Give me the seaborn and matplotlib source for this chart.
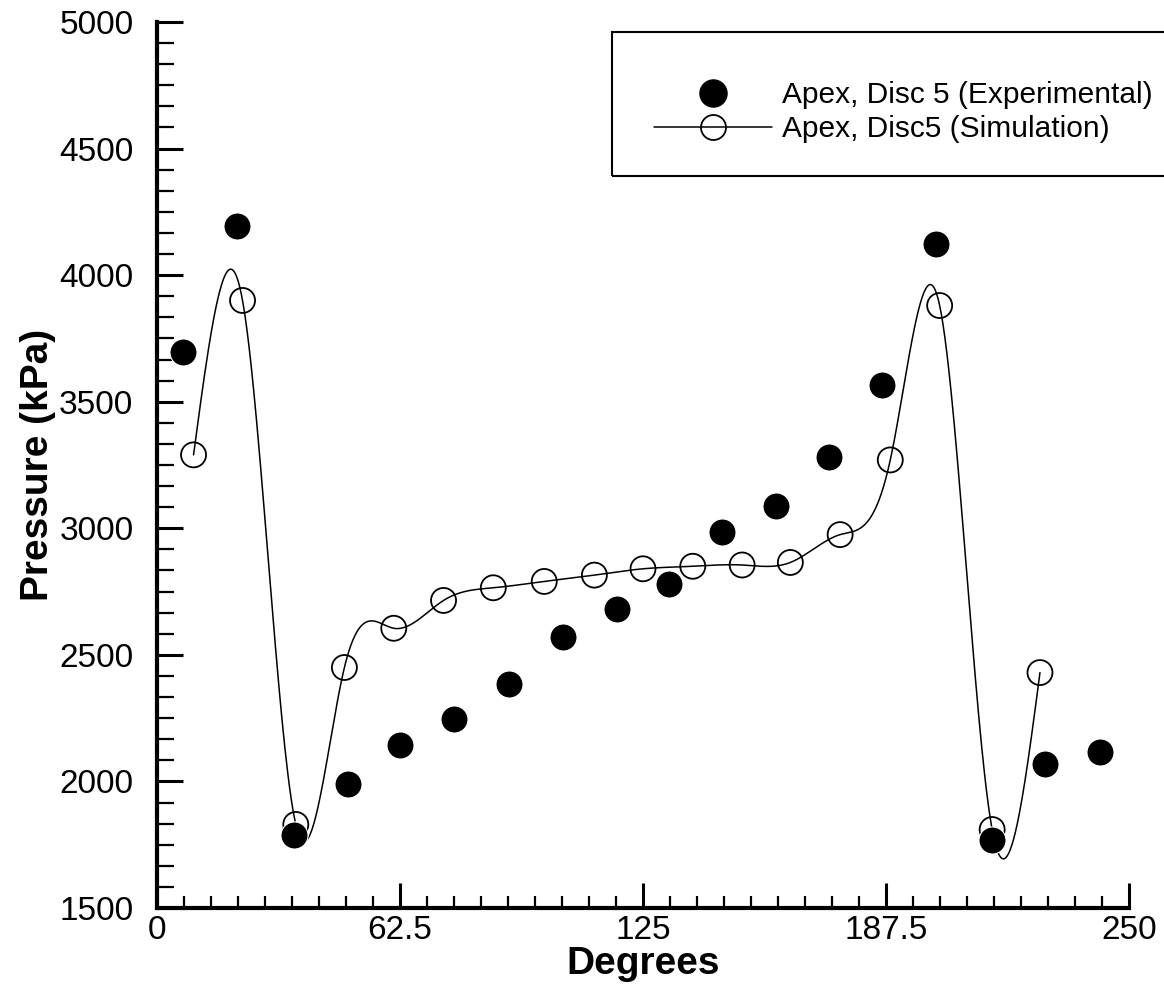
import numpy as np
import matplotlib
matplotlib.use("Agg")
import matplotlib.pyplot as plt
import matplotlib.patches as patches
from matplotlib.lines import Line2D
from matplotlib.ticker import AutoMinorLocator
import seaborn as sns

# Apex, Disc 5 - experimental points (degrees, kPa)
exp_deg = [6.7, 20.6, 35.3, 49.0, 62.6, 76.5, 90.5, 104.4, 118.3, 131.8,
           145.4, 159.1, 172.8, 186.5, 200.3, 214.7, 228.5, 242.6]
exp_kpa = [3695, 4195, 1790, 1990, 2145, 2245, 2385, 2570, 2680, 2780,
           2985, 3090, 3280, 3565, 4125, 1770, 2070, 2115]

# Apex, Disc5 - simulation points (degrees, kPa)
sim_deg = [9.4, 22.0, 35.7, 48.2, 60.9, 73.7, 86.5, 99.6, 112.5, 125.0,
           137.8, 150.5, 162.9, 175.7, 188.6, 201.3, 214.8, 227.1]
sim_kpa = [3290, 3900, 1830, 2450, 2605, 2715, 2765, 2790, 2815, 2840,
           2850, 2855, 2865, 2975, 3270, 3880, 1810, 2430]

x_ticks = [0, 62.5, 125, 187.5, 250]
x_tick_labels = ["0", "62.5", "125", "187.5", "250"]
y_ticks = [1500, 2000, 2500, 3000, 3500, 4000, 4500, 5000]

label_exp = "Apex, Disc 5 (Experimental)"
label_sim = "Apex, Disc5 (Simulation)"


def spline_curve(x, y, n=900):
    """Natural cubic spline through the points (the curve fit of the original plot)"""
    x = np.asarray(x, float)
    y = np.asarray(y, float)
    h = np.diff(x)
    m = len(x)
    A = np.zeros((m, m))
    r = np.zeros(m)
    A[0, 0] = A[-1, -1] = 1.0
    for i in range(1, m - 1):
        A[i, i - 1] = h[i - 1]
        A[i, i] = 2 * (h[i - 1] + h[i])
        A[i, i + 1] = h[i]
        r[i] = 6 * ((y[i + 1] - y[i]) / h[i] - (y[i] - y[i - 1]) / h[i - 1])
    M = np.linalg.solve(A, r)
    xs = np.linspace(x[0], x[-1], n)
    k = np.clip(np.searchsorted(x, xs) - 1, 0, m - 2)
    t0 = x[k + 1] - xs
    t1 = xs - x[k]
    hk = h[k]
    ys = ((M[k] * t0 ** 3 + M[k + 1] * t1 ** 3) / (6 * hk)
          + (y[k] / hk - M[k] * hk / 6) * t0
          + (y[k + 1] / hk - M[k + 1] * hk / 6) * t1)
    return xs, ys


sns.set_style("ticks")
plt.rcParams['font.family'] = ['Liberation Sans', 'DejaVu Sans']
plt.rcParams.update({
    'text.color': 'black', 'axes.labelcolor': 'black',
    'xtick.color': 'black', 'ytick.color': 'black', 'axes.edgecolor': 'black',
})

W, H = 1164, 996
fig = plt.figure(figsize=(W / 100, H / 100), dpi=100)
ax = fig.add_axes([157 / W, 1 - 908 / H, (1129 - 157) / W, (908 - 22) / H])

# smooth simulation curve, then markers on top
curve_x, curve_y = spline_curve(sim_deg, sim_kpa)
sns.lineplot(x=curve_x, y=curve_y, ax=ax, color="black", linewidth=1.1,
             estimator=None, sort=False, zorder=2)
sns.scatterplot(x=sim_deg, y=sim_kpa, ax=ax, s=18 ** 2, marker="o",
                facecolor="none", edgecolor="black", linewidth=1.3, zorder=3)
sns.scatterplot(x=exp_deg, y=exp_kpa, ax=ax, s=19.5 ** 2, marker="o",
                color="black", edgecolor="white", linewidth=0.8, zorder=4)

ax.set_xlim(0, 250)
ax.set_ylim(1500, 5000)
ax.set_xticks(x_ticks)
ax.set_xticklabels(x_tick_labels)
ax.set_yticks(y_ticks)
ax.xaxis.set_minor_locator(AutoMinorLocator(9))
ax.yaxis.set_minor_locator(AutoMinorLocator(6))

sns.despine(ax=ax)
for side in ["left", "bottom"]:
    ax.spines[side].set_linewidth(3)
ax.tick_params(axis="y", which="major", direction="in", length=19, width=2.2,
               labelsize=24, pad=17)
ax.tick_params(axis="y", which="minor", direction="in", length=12, width=1.6)
ax.tick_params(axis="x", which="major", direction="in", length=18, width=2.2,
               labelsize=24, pad=5)
ax.tick_params(axis="x", which="minor", direction="in", length=8.5, width=1.6)

ax.set_xlabel("Degrees", fontsize=28, fontweight="bold", labelpad=0)
ax.set_ylabel("Pressure (kPa)", fontsize=28, fontweight="bold", labelpad=2)

# legend
h_exp = Line2D([], [], linestyle="none", marker="o", markersize=19.5,
               markerfacecolor="black", markeredgecolor="black")
h_sim = Line2D([], [], color="black", linewidth=1.1, marker="o", markersize=18,
               markerfacecolor="none", markeredgecolor="black", markeredgewidth=1.3)
fig.legend([h_exp, h_sim], [label_exp, label_sim], loc="upper left",
           bbox_to_anchor=(654 / W, 1 - 81 / H), frameon=False, fontsize=21.5,
           handlelength=3.95, handletextpad=0.35, borderpad=0, borderaxespad=0,
           labelspacing=0.21)
fig.add_artist(patches.Rectangle((612 / W, 1 - 176 / H), (1180 - 612) / W, 144 / H,
                                 transform=fig.transFigure, fill=False,
                                 edgecolor="black", linewidth=1.5))

fig.savefig("out.png", dpi=100)
